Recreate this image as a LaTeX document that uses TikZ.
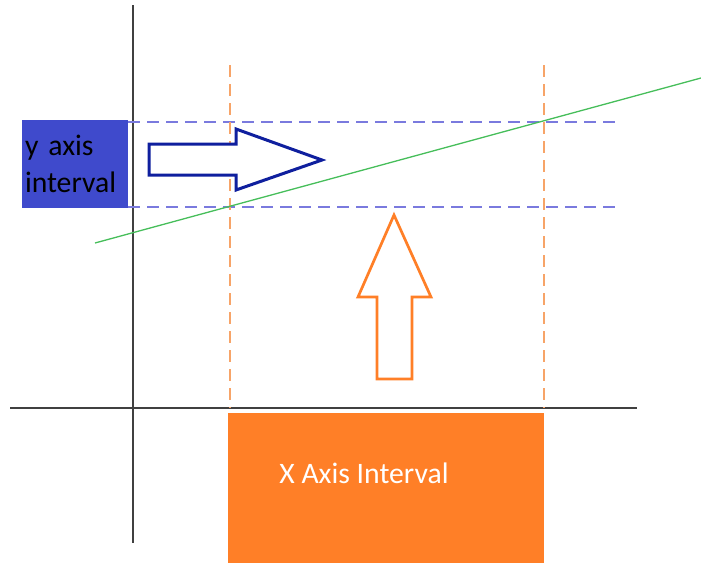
\documentclass[tikz,border=0pt]{standalone}
\usepackage{fontspec}
\setmainfont{Carlito}
\usetikzlibrary{positioning,calc}
\definecolor{yblue}{HTML}{3F4ACC}
\definecolor{arrowblue}{HTML}{0F1F9E}
\definecolor{guideblue}{HTML}{7A7ADE}
\definecolor{xorange}{HTML}{FF7F27}
\definecolor{guideorange}{HTML}{F7A468}
\definecolor{linegreen}{HTML}{46BE5A}

\begin{document}
\begin{tikzpicture}[
  x=1pt, y=-1pt,
  axis/.style={line width=1.4pt, draw=black!75},
  guide/.style={line width=1.3pt, dash pattern=on 12pt off 7pt},
  interval/.style={
    rectangle, inner sep=0pt, outer sep=0pt,
    anchor=north west, font=\fontsize{29.7}{37}\selectfont
  },
  blockarrow/.style={line width=3pt, line join=miter, fill=white}
]
\useasboundingbox (0,0) rectangle (701,563);

%% Intervals
\node[interval, fill=yblue, minimum width=106pt, minimum height=88pt,
  text width=100pt, align=left, inner xsep=3pt] (yint) at (22,120)
  {y axis\\interval};
\node[interval, fill=xorange, minimum width=316pt, minimum height=150pt] (xint) at (228,413) {};
\node[font=\fontsize{29.7}{37}\selectfont, text=white] (xtext) at (364,473) {X Axis Interval};

%% Axes
\draw[axis] (133,5) -- (133,543);
\draw[axis] (10,408) -- (637,408);

%% Guide lines
\coordinate (ytop) at (620,122);
\coordinate (ybot) at (620,207);
\draw[guide, guideblue] (yint.north east |- ytop) -- (ytop);
\draw[guide, guideblue] (yint.north east |- ybot) -- (ybot);
\draw[guide, guideorange] (230,65) -- (230,408);
\draw[guide, guideorange] (544,65) -- (544,408);

%% Function line
\coordinate (fstart) at (95,243);
\coordinate (fend) at (701,78);
\draw[line width=1.3pt, linegreen] (fstart) -- (fend);

%% Block arrows
\draw[blockarrow, draw=arrowblue] (149,144) -- (236,144) -- (236,129) -- (322,160)
  -- (236,190) -- (236,175) -- (149,175) -- cycle;
\draw[blockarrow, draw=xorange, line width=2.7pt] (377,379) -- (377,297) -- (358,297) -- (394,215)
  -- (431,297) -- (412,297) -- (412,379) -- cycle;

\end{tikzpicture}
\end{document}
